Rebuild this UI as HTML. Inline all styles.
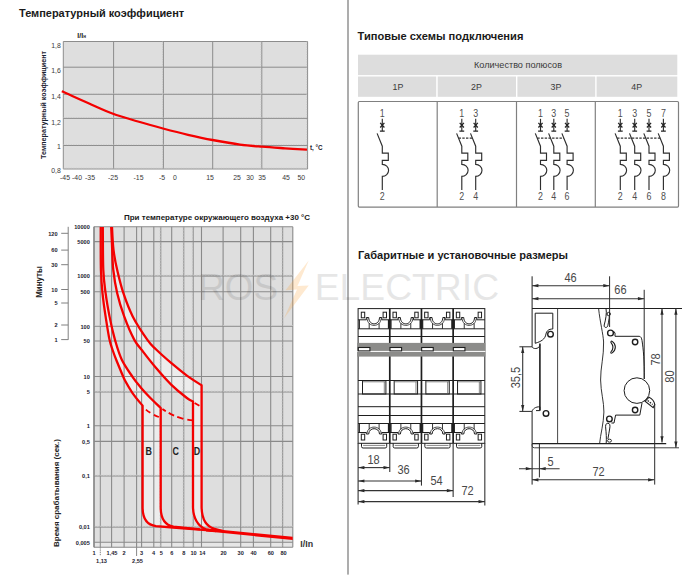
<!DOCTYPE html>
<html><head><meta charset="utf-8"><title>page</title>
<style>
html,body{margin:0;padding:0;background:#fff;}
body{width:698px;height:582px;overflow:hidden;}
svg{display:block;}
text{font-family:"Liberation Sans",sans-serif;}
</style></head><body>
<svg width="698" height="582" viewBox="0 0 698 582">
<rect x="0" y="0" width="698" height="582" fill="#fff"/>
<rect x="347" y="0" width="2" height="574.6" fill="#adadad"/>
<text x="19" y="16.8" font-size="11.2" text-anchor="start" font-weight="bold" fill="#1a1a1a" textLength="165.2" lengthAdjust="spacingAndGlyphs">Температурный коэффициент</text>
<text x="357.6" y="39.8" font-size="11.2" text-anchor="start" font-weight="bold" fill="#1a1a1a" textLength="165.8" lengthAdjust="spacingAndGlyphs">Типовые схемы подключения</text>
<text x="358" y="259" font-size="11.2" text-anchor="start" font-weight="bold" fill="#1a1a1a" textLength="210" lengthAdjust="spacingAndGlyphs">Габаритные и установочные размеры</text>
<g id="chart1">
<rect x="63.3" y="41.5" width="244.3" height="127.5" fill="#dedede"/>
<line x1="63.3" y1="41.5" x2="63.3" y2="169.0" stroke="#8c8c8c" stroke-width="1.0" />
<line x1="113.6" y1="41.5" x2="113.6" y2="169.0" stroke="#8c8c8c" stroke-width="1.0" />
<line x1="163.4" y1="41.5" x2="163.4" y2="169.0" stroke="#8c8c8c" stroke-width="1.0" />
<line x1="212.7" y1="41.5" x2="212.7" y2="169.0" stroke="#8c8c8c" stroke-width="1.0" />
<line x1="261.8" y1="41.5" x2="261.8" y2="169.0" stroke="#8c8c8c" stroke-width="1.0" />
<line x1="307.6" y1="41.5" x2="307.6" y2="169.0" stroke="#8c8c8c" stroke-width="1.0" />
<line x1="63.3" y1="41.5" x2="307.6" y2="41.5" stroke="#8c8c8c" stroke-width="1.0" />
<line x1="63.3" y1="67.2" x2="307.6" y2="67.2" stroke="#8c8c8c" stroke-width="1.0" />
<line x1="63.3" y1="94.3" x2="307.6" y2="94.3" stroke="#8c8c8c" stroke-width="1.0" />
<line x1="63.3" y1="118.4" x2="307.6" y2="118.4" stroke="#8c8c8c" stroke-width="1.0" />
<line x1="63.3" y1="145.5" x2="307.6" y2="145.5" stroke="#8c8c8c" stroke-width="1.0" />
<line x1="63.3" y1="169.0" x2="307.6" y2="169.0" stroke="#8c8c8c" stroke-width="1.0" />
<line x1="162.5" y1="41.5" x2="162.5" y2="169.0" stroke="#c4c4c4" stroke-width="0.7" stroke-dasharray="1 1.5"/>
<line x1="260.90000000000003" y1="41.5" x2="260.90000000000003" y2="169.0" stroke="#c4c4c4" stroke-width="0.7" stroke-dasharray="1 1.5"/>
<line x1="306.70000000000005" y1="41.5" x2="306.70000000000005" y2="169.0" stroke="#c4c4c4" stroke-width="0.7" stroke-dasharray="1 1.5"/>
<line x1="63.3" y1="93.5" x2="307.6" y2="93.5" stroke="#c4c4c4" stroke-width="0.7" stroke-dasharray="1 1.5"/>
<line x1="63.3" y1="117.60000000000001" x2="307.6" y2="117.60000000000001" stroke="#c4c4c4" stroke-width="0.7" stroke-dasharray="1 1.5"/>
<line x1="63.3" y1="144.7" x2="307.6" y2="144.7" stroke="#c4c4c4" stroke-width="0.7" stroke-dasharray="1 1.5"/>
<line x1="63.3" y1="168.2" x2="307.6" y2="168.2" stroke="#c4c4c4" stroke-width="0.7" stroke-dasharray="1 1.5"/>
<path d="M61.8,91.3 C66.2,93.2 79.5,99.3 88,103 C96.5,106.7 104.7,110.7 113,113.75 C121.3,116.8 129.7,119.0 138,121.5 C146.3,124.0 154.7,126.3 163,128.5 C171.3,130.7 179.8,132.9 188,134.8 C196.2,136.7 203.8,138.4 212.5,140 C221.2,141.6 231.8,143.5 240,144.6 C248.2,145.7 254.5,146.1 262,146.7 C269.5,147.3 277.5,147.8 285,148.3 C292.5,148.8 303.3,149.4 307,149.6" fill="none" stroke="#f40000" stroke-width="2.3"/>
<text x="60.8" y="48.0" font-size="6.9" text-anchor="end" font-weight="normal" fill="#3a3a3a" >1,8</text>
<text x="60.8" y="73.25" font-size="6.9" text-anchor="end" font-weight="normal" fill="#3a3a3a" >1,6</text>
<text x="60.8" y="98.75" font-size="6.9" text-anchor="end" font-weight="normal" fill="#3a3a3a" >1,4</text>
<text x="60.8" y="124.5" font-size="6.9" text-anchor="end" font-weight="normal" fill="#3a3a3a" >1,2</text>
<text x="60.8" y="149.0" font-size="6.9" text-anchor="end" font-weight="normal" fill="#3a3a3a" >1</text>
<text x="60.8" y="172.5" font-size="6.9" text-anchor="end" font-weight="normal" fill="#3a3a3a" >0,8</text>
<text x="65" y="179.6" font-size="6.9" text-anchor="middle" font-weight="normal" fill="#3a3a3a" >-45</text>
<text x="77" y="179.6" font-size="6.9" text-anchor="middle" font-weight="normal" fill="#3a3a3a" >-40</text>
<text x="90" y="179.6" font-size="6.9" text-anchor="middle" font-weight="normal" fill="#3a3a3a" >-35</text>
<text x="113" y="179.6" font-size="6.9" text-anchor="middle" font-weight="normal" fill="#3a3a3a" >-25</text>
<text x="138.5" y="179.6" font-size="6.9" text-anchor="middle" font-weight="normal" fill="#3a3a3a" >-15</text>
<text x="162" y="179.6" font-size="6.9" text-anchor="middle" font-weight="normal" fill="#3a3a3a" >-5</text>
<text x="175" y="179.6" font-size="6.9" text-anchor="middle" font-weight="normal" fill="#3a3a3a" >0</text>
<text x="210" y="179.6" font-size="6.9" text-anchor="middle" font-weight="normal" fill="#3a3a3a" >15</text>
<text x="237" y="179.6" font-size="6.9" text-anchor="middle" font-weight="normal" fill="#3a3a3a" >25</text>
<text x="250" y="179.6" font-size="6.9" text-anchor="middle" font-weight="normal" fill="#3a3a3a" >30</text>
<text x="262" y="179.6" font-size="6.9" text-anchor="middle" font-weight="normal" fill="#3a3a3a" >35</text>
<text x="286" y="179.6" font-size="6.9" text-anchor="middle" font-weight="normal" fill="#3a3a3a" >45</text>
<text x="301.3" y="179.6" font-size="6.9" text-anchor="middle" font-weight="normal" fill="#3a3a3a" >50</text>
<text x="77.3" y="38" font-size="7" font-weight="bold" fill="#222">I/I<tspan font-size="4.6" dy="-0.2">н</tspan></text>
<text x="310" y="150" font-size="6.3" text-anchor="start" font-weight="bold" fill="#1b2230" >t, °C</text>
<text transform="translate(45.5,105) rotate(-90)" font-size="6.8" font-weight="bold" text-anchor="middle" fill="#1b2230" textLength="108" lengthAdjust="spacingAndGlyphs">Температурный коэффициент</text>
</g>
<g id="chart2">
<rect x="94" y="226.8" width="198.8" height="320.40000000000003" fill="#dedede"/>
<path d="M100.8,227 L101,270 L102.5,293.2 L105.6,316.4 L109.5,339.6 L112.6,350 L116.5,360.5 L122.5,375 L125,380.5 L132.7,393.3 L142.6,405.7 L142.6,405.7 L142.6,509 L144.6,519.2 L148.9,523.5 L155.8,526.1 L173,526.6 L166.1,523.5 L162.7,519.2 L160.7,509 L160.7,408 L160.7,408 L155.9,403.4 L148.2,395.7 L140.5,387.2 L132.7,377.1 L121.8,359.7 L114.9,339.6 L109.5,316.4 L105.6,293.2 L103.3,270 L102.8,227 Z" fill="#ececec"/>
<path d="M111.2,227 L112.2,250 L113.3,270 L117.2,293.2 L124.2,316.4 L134.2,339.6 L143.6,352.4 L155.9,367.8 L171.4,384.8 L186.9,398 L193,401.4 L193,401.4 L193,508 L195.3,519.2 L198.8,524.4 L205.6,529.2 L221,530.9 L214.2,528.7 L207.4,524.4 L203.9,519.2 L201.6,508 L201.6,385.3 L201.6,385.3 L186.9,375.6 L171.4,363.2 L155.9,349.3 L147.4,339.8 L132.7,316.4 L123.4,293.2 L117.2,270 L113.5,250 L112,227 Z" fill="#ececec"/>
<rect x="94" y="542.9" width="198.8" height="3.6" fill="#e6e6e6"/>
<line x1="94" y1="226.8" x2="94" y2="547.2" stroke="#8a8a8a" stroke-width="1.1" />
<line x1="100.3" y1="226.8" x2="100.3" y2="547.2" stroke="#8a8a8a" stroke-width="1.0" />
<line x1="99.5" y1="226.8" x2="99.5" y2="547.2" stroke="#cdcdcd" stroke-width="0.8" stroke-dasharray="1.4 1.6"/>
<line x1="111.6" y1="226.8" x2="111.6" y2="547.2" stroke="#8a8a8a" stroke-width="1.1" />
<line x1="124.1" y1="226.8" x2="124.1" y2="547.2" stroke="#8a8a8a" stroke-width="1.1" />
<line x1="136.6" y1="226.8" x2="136.6" y2="547.2" stroke="#8a8a8a" stroke-width="1.1" />
<line x1="141.6" y1="226.8" x2="141.6" y2="547.2" stroke="#8a8a8a" stroke-width="1.1" />
<line x1="153.8" y1="226.8" x2="153.8" y2="547.2" stroke="#8a8a8a" stroke-width="1.1" />
<line x1="160.8" y1="226.8" x2="160.8" y2="547.2" stroke="#8a8a8a" stroke-width="1.0" />
<line x1="160.0" y1="226.8" x2="160.0" y2="547.2" stroke="#cdcdcd" stroke-width="0.8" stroke-dasharray="1.4 1.6"/>
<line x1="171.7" y1="226.8" x2="171.7" y2="547.2" stroke="#8a8a8a" stroke-width="1.1" />
<line x1="183.8" y1="226.8" x2="183.8" y2="547.2" stroke="#8a8a8a" stroke-width="1.0" />
<line x1="183.0" y1="226.8" x2="183.0" y2="547.2" stroke="#cdcdcd" stroke-width="0.8" stroke-dasharray="1.4 1.6"/>
<line x1="193.2" y1="226.8" x2="193.2" y2="547.2" stroke="#8a8a8a" stroke-width="1.0" />
<line x1="192.39999999999998" y1="226.8" x2="192.39999999999998" y2="547.2" stroke="#cdcdcd" stroke-width="0.8" stroke-dasharray="1.4 1.6"/>
<line x1="201.5" y1="226.8" x2="201.5" y2="547.2" stroke="#8a8a8a" stroke-width="1.1" />
<line x1="223.1" y1="226.8" x2="223.1" y2="547.2" stroke="#8a8a8a" stroke-width="1.1" />
<line x1="240.7" y1="226.8" x2="240.7" y2="547.2" stroke="#8a8a8a" stroke-width="1.1" />
<line x1="253.4" y1="226.8" x2="253.4" y2="547.2" stroke="#8a8a8a" stroke-width="1.1" />
<line x1="270.7" y1="226.8" x2="270.7" y2="547.2" stroke="#8a8a8a" stroke-width="1.1" />
<line x1="282.7" y1="226.8" x2="282.7" y2="547.2" stroke="#8a8a8a" stroke-width="1.0" />
<line x1="281.9" y1="226.8" x2="281.9" y2="547.2" stroke="#cdcdcd" stroke-width="0.8" stroke-dasharray="1.4 1.6"/>
<line x1="292.8" y1="226.8" x2="292.8" y2="547.2" stroke="#8a8a8a" stroke-width="1.1" />
<line x1="94" y1="226.8" x2="292.8" y2="226.8" stroke="#8a8a8a" stroke-width="1.1" />
<line x1="94" y1="241.6" x2="292.8" y2="241.6" stroke="#8a8a8a" stroke-width="1.1" />
<line x1="94" y1="276" x2="292.8" y2="276" stroke="#8a8a8a" stroke-width="1.0" />
<line x1="94" y1="275.2" x2="292.8" y2="275.2" stroke="#cdcdcd" stroke-width="0.8" stroke-dasharray="1.4 1.6"/>
<line x1="94" y1="291.8" x2="292.8" y2="291.8" stroke="#8a8a8a" stroke-width="1.1" />
<line x1="94" y1="326.3" x2="292.8" y2="326.3" stroke="#8a8a8a" stroke-width="1.0" />
<line x1="94" y1="325.5" x2="292.8" y2="325.5" stroke="#cdcdcd" stroke-width="0.8" stroke-dasharray="1.4 1.6"/>
<line x1="94" y1="341" x2="292.8" y2="341" stroke="#8a8a8a" stroke-width="1.1" />
<line x1="94" y1="376.5" x2="292.8" y2="376.5" stroke="#8a8a8a" stroke-width="1.1" />
<line x1="94" y1="392" x2="292.8" y2="392" stroke="#8a8a8a" stroke-width="1.0" />
<line x1="94" y1="391.2" x2="292.8" y2="391.2" stroke="#cdcdcd" stroke-width="0.8" stroke-dasharray="1.4 1.6"/>
<line x1="94" y1="425.8" x2="292.8" y2="425.8" stroke="#8a8a8a" stroke-width="1.1" />
<line x1="94" y1="441.4" x2="292.8" y2="441.4" stroke="#8a8a8a" stroke-width="1.1" />
<line x1="94" y1="476" x2="292.8" y2="476" stroke="#8a8a8a" stroke-width="1.0" />
<line x1="94" y1="475.2" x2="292.8" y2="475.2" stroke="#cdcdcd" stroke-width="0.8" stroke-dasharray="1.4 1.6"/>
<line x1="94" y1="527.1" x2="292.8" y2="527.1" stroke="#8a8a8a" stroke-width="1.0" />
<line x1="94" y1="526.3000000000001" x2="292.8" y2="526.3000000000001" stroke="#cdcdcd" stroke-width="0.8" stroke-dasharray="1.4 1.6"/>
<line x1="94" y1="542.2" x2="292.8" y2="542.2" stroke="#8a8a8a" stroke-width="1.1" />
<line x1="94" y1="547.2" x2="292.8" y2="547.2" stroke="#8a8a8a" stroke-width="1.1" />
<line x1="94" y1="226.8" x2="94" y2="547.2" stroke="#858585" stroke-width="1.3" />
<path d="M100.8,227 C100.8,234.2 100.7,259.0 101,270 C101.3,281.0 101.7,285.5 102.5,293.2 C103.3,300.9 104.4,308.7 105.6,316.4 C106.8,324.1 108.3,334.0 109.5,339.6 C110.7,345.2 111.4,346.5 112.6,350 C113.8,353.5 114.8,356.3 116.5,360.5 C118.2,364.7 121.1,371.7 122.5,375 C123.9,378.3 123.3,377.4 125,380.5 C126.7,383.6 129.8,389.1 132.7,393.3 C135.6,397.5 140.9,403.6 142.6,405.7 L142.6,508 C142.8,518 147,525 156,526.1 L173,527.5 L216,530.9" fill="none" stroke="#f40000" stroke-width="2.3" stroke-linejoin="round"/>
<path d="M102.8,227 C102.9,234.2 102.8,259.0 103.3,270 C103.8,281.0 104.6,285.5 105.6,293.2 C106.6,300.9 108.0,308.7 109.5,316.4 C111.0,324.1 112.9,332.4 114.9,339.6 C117.0,346.8 118.8,353.4 121.8,359.7 C124.8,365.9 129.6,372.5 132.7,377.1 C135.8,381.7 137.9,384.1 140.5,387.2 C143.1,390.3 145.6,393.0 148.2,395.7 C150.8,398.4 153.8,401.3 155.9,403.4 C158.0,405.4 159.9,407.2 160.7,408 L160.7,508 C160.9,518 165,525.2 173.5,526.6 L200,529.4" fill="none" stroke="#f40000" stroke-width="2.3" stroke-linejoin="round"/>
<path d="M111.2,227 C111.4,230.8 111.9,242.8 112.2,250 C112.5,257.2 112.5,262.8 113.3,270 C114.1,277.2 115.4,285.5 117.2,293.2 C119.0,300.9 121.4,308.7 124.2,316.4 C127.0,324.1 131.0,333.6 134.2,339.6 C137.4,345.6 140.0,347.7 143.6,352.4 C147.2,357.1 151.3,362.4 155.9,367.8 C160.5,373.2 166.2,379.8 171.4,384.8 C176.6,389.8 183.3,395.2 186.9,398 C190.5,400.8 192.0,400.8 193,401.4 L193,507 C193.2,518 198,526.5 206,529.3 L216,531" fill="none" stroke="#f40000" stroke-width="2.3" stroke-linejoin="round"/>
<path d="M112,227 C112.2,230.8 112.6,242.8 113.5,250 C114.4,257.2 115.5,262.8 117.2,270 C118.9,277.2 120.8,285.5 123.4,293.2 C126.0,300.9 128.7,308.6 132.7,316.4 C136.7,324.2 143.5,334.3 147.4,339.8 C151.3,345.3 151.9,345.4 155.9,349.3 C159.9,353.2 166.2,358.8 171.4,363.2 C176.6,367.6 181.9,371.9 186.9,375.6 C191.9,379.3 199.2,383.7 201.6,385.3 L201.6,507 C201.8,518 206,526.5 214.5,528.9 L224,531.4" fill="none" stroke="#f40000" stroke-width="2.3" stroke-linejoin="round"/>
<path d="M206,528.6 L218,529.4 L292.7,536.8 V540 L218,532.6 L206,531.4 Z" fill="#f40000"/>
<path d="M145.9,409.6 C150,413 155,415.8 159.8,417.3" fill="none" stroke="#f40000" stroke-width="1.8" stroke-dasharray="5.5 4"/>
<path d="M162.4,409 C172,415.5 182,419.6 193,420.4" fill="none" stroke="#f40000" stroke-width="1.8" stroke-dasharray="4 3.4 6 3.4 6.5 4 6 4"/>
<path d="M194.6,403 L199.4,405.8" fill="none" stroke="#f40000" stroke-width="1.8"/>
<text transform="translate(148.8,454.6) scale(0.84,1)" font-size="10.6" font-weight="bold" text-anchor="middle" fill="#222">B</text>
<text transform="translate(175.6,454.6) scale(0.84,1)" font-size="10.6" font-weight="bold" text-anchor="middle" fill="#222">C</text>
<text transform="translate(197,454.6) scale(0.84,1)" font-size="10.6" font-weight="bold" text-anchor="middle" fill="#222">D</text>
<text x="89.8" y="229.10000000000002" font-size="5.6" text-anchor="end" font-weight="bold" fill="#1b2230" >10000</text>
<text x="89.8" y="243.9" font-size="5.6" text-anchor="end" font-weight="bold" fill="#1b2230" >5000</text>
<text x="89.8" y="278.3" font-size="5.6" text-anchor="end" font-weight="bold" fill="#1b2230" >1000</text>
<text x="89.8" y="294.1" font-size="5.6" text-anchor="end" font-weight="bold" fill="#1b2230" >500</text>
<text x="89.8" y="328.6" font-size="5.6" text-anchor="end" font-weight="bold" fill="#1b2230" >100</text>
<text x="89.8" y="343.3" font-size="5.6" text-anchor="end" font-weight="bold" fill="#1b2230" >50</text>
<text x="89.8" y="378.8" font-size="5.6" text-anchor="end" font-weight="bold" fill="#1b2230" >10</text>
<text x="89.8" y="394.3" font-size="5.6" text-anchor="end" font-weight="bold" fill="#1b2230" >5</text>
<text x="89.8" y="428.1" font-size="5.6" text-anchor="end" font-weight="bold" fill="#1b2230" >1</text>
<text x="89.8" y="443.7" font-size="5.6" text-anchor="end" font-weight="bold" fill="#1b2230" >0,5</text>
<text x="89.8" y="478.3" font-size="5.6" text-anchor="end" font-weight="bold" fill="#1b2230" >0,1</text>
<text x="89.8" y="529.4" font-size="5.6" text-anchor="end" font-weight="bold" fill="#1b2230" >0,01</text>
<text x="89.8" y="544.5" font-size="5.6" text-anchor="end" font-weight="bold" fill="#1b2230" >0,005</text>
<line x1="68.2" y1="226.8" x2="68.2" y2="339.8" stroke="#808080" stroke-width="1.0" />
<line x1="61.2" y1="233.3" x2="68.2" y2="233.3" stroke="#808080" stroke-width="1.0" />
<text x="57.6" y="235.60000000000002" font-size="5.6" text-anchor="end" font-weight="bold" fill="#1b2230" >120</text>
<line x1="61.2" y1="250.1" x2="68.2" y2="250.1" stroke="#808080" stroke-width="1.0" />
<text x="57.6" y="252.4" font-size="5.6" text-anchor="end" font-weight="bold" fill="#1b2230" >60</text>
<line x1="61.2" y1="264.7" x2="68.2" y2="264.7" stroke="#808080" stroke-width="1.0" />
<text x="57.6" y="267.0" font-size="5.6" text-anchor="end" font-weight="bold" fill="#1b2230" >30</text>
<line x1="61.2" y1="289.5" x2="68.2" y2="289.5" stroke="#808080" stroke-width="1.0" />
<text x="57.6" y="291.8" font-size="5.6" text-anchor="end" font-weight="bold" fill="#1b2230" >10</text>
<line x1="61.2" y1="303" x2="68.2" y2="303" stroke="#808080" stroke-width="1.0" />
<text x="57.6" y="305.3" font-size="5.6" text-anchor="end" font-weight="bold" fill="#1b2230" >5</text>
<line x1="61.2" y1="325" x2="68.2" y2="325" stroke="#808080" stroke-width="1.0" />
<text x="57.6" y="327.3" font-size="5.6" text-anchor="end" font-weight="bold" fill="#1b2230" >2</text>
<line x1="61.2" y1="339.6" x2="68.2" y2="339.6" stroke="#808080" stroke-width="1.0" />
<text x="57.6" y="341.90000000000003" font-size="5.6" text-anchor="end" font-weight="bold" fill="#1b2230" >1</text>
<text transform="translate(41.6,282) rotate(-90)" font-size="9" font-weight="bold" text-anchor="middle" fill="#222" textLength="31.5" lengthAdjust="spacingAndGlyphs">Минуты</text>
<text transform="translate(59.4,493) rotate(-90)" font-size="7.8" font-weight="bold" text-anchor="middle" fill="#222" textLength="108" lengthAdjust="spacingAndGlyphs">Время срабатывания (сек.)</text>
<text x="124" y="220.3" font-size="7.6" text-anchor="start" font-weight="bold" fill="#1a1a1a" textLength="186" lengthAdjust="spacingAndGlyphs">При температуре окружающего воздуха +30 °C</text>
<text x="300.3" y="547.2" font-size="9" text-anchor="start" font-weight="bold" fill="#333" textLength="12.8" lengthAdjust="spacingAndGlyphs">I/In</text>
<text x="94" y="555.3" font-size="5.6" text-anchor="middle" font-weight="bold" fill="#1b2230" >1</text>
<text x="112" y="555.3" font-size="5.6" text-anchor="middle" font-weight="bold" fill="#1b2230" >1,45</text>
<text x="124" y="555.3" font-size="5.6" text-anchor="middle" font-weight="bold" fill="#1b2230" >2</text>
<text x="141.6" y="555.3" font-size="5.6" text-anchor="middle" font-weight="bold" fill="#1b2230" >3</text>
<text x="153.5" y="555.3" font-size="5.6" text-anchor="middle" font-weight="bold" fill="#1b2230" >4</text>
<text x="161.2" y="555.3" font-size="5.6" text-anchor="middle" font-weight="bold" fill="#1b2230" >5</text>
<text x="171.7" y="555.3" font-size="5.6" text-anchor="middle" font-weight="bold" fill="#1b2230" >6</text>
<text x="183.8" y="555.3" font-size="5.6" text-anchor="middle" font-weight="bold" fill="#1b2230" >8</text>
<text x="193.5" y="555.3" font-size="5.6" text-anchor="middle" font-weight="bold" fill="#1b2230" >10</text>
<text x="202.3" y="555.3" font-size="5.6" text-anchor="middle" font-weight="bold" fill="#1b2230" >14</text>
<text x="223.6" y="555.3" font-size="5.6" text-anchor="middle" font-weight="bold" fill="#1b2230" >20</text>
<text x="240.7" y="555.3" font-size="5.6" text-anchor="middle" font-weight="bold" fill="#1b2230" >30</text>
<text x="253.5" y="555.3" font-size="5.6" text-anchor="middle" font-weight="bold" fill="#1b2230" >40</text>
<text x="270.8" y="555.3" font-size="5.6" text-anchor="middle" font-weight="bold" fill="#1b2230" >60</text>
<text x="283.6" y="555.3" font-size="5.6" text-anchor="middle" font-weight="bold" fill="#1b2230" >80</text>
<text x="101.5" y="563.3" font-size="5.6" text-anchor="middle" font-weight="bold" fill="#1b2230" >1,13</text>
<text x="137.5" y="563.3" font-size="5.6" text-anchor="middle" font-weight="bold" fill="#1b2230" >2,55</text>
<line x1="100.3" y1="547.2" x2="100.3" y2="556" stroke="#888" stroke-width="1" stroke-dasharray="1.4 0.8"/>
<line x1="136.6" y1="547.2" x2="136.6" y2="556" stroke="#888" stroke-width="1" />
</g>
<g id="table">
<rect x="358" y="54.7" width="319.3" height="20.4" fill="#dddddd"/>
<rect x="358" y="76.5" width="78.19999999999999" height="20.3" fill="#dddddd"/>
<rect x="437.7" y="76.5" width="78.30000000000001" height="20.3" fill="#dddddd"/>
<rect x="517.4" y="76.5" width="77.80000000000007" height="20.3" fill="#dddddd"/>
<rect x="596.6" y="76.5" width="80.69999999999993" height="20.3" fill="#dddddd"/>
<text x="518" y="68.1" font-size="8.6" text-anchor="middle" font-weight="normal" fill="#3a3a3a" textLength="88" lengthAdjust="spacingAndGlyphs">Количество полюсов</text>
<text transform="translate(397.9,90.3) scale(0.9,1)" font-size="9.8" text-anchor="middle" fill="#3a3a3a">1P</text>
<text transform="translate(476.4,90.3) scale(0.9,1)" font-size="9.8" text-anchor="middle" fill="#3a3a3a">2P</text>
<text transform="translate(555.9,90.3) scale(0.9,1)" font-size="9.8" text-anchor="middle" fill="#3a3a3a">3P</text>
<text transform="translate(636.7,90.3) scale(0.9,1)" font-size="9.8" text-anchor="middle" fill="#3a3a3a">4P</text>
<rect x="358.3" y="101.5" width="320.2" height="105.6" rx="1" fill="#fff" stroke="#808080" stroke-width="1.2"/>
<line x1="437.2" y1="101.6" x2="437.2" y2="207" stroke="#808080" stroke-width="1.2" />
<line x1="516.5" y1="101.6" x2="516.5" y2="207" stroke="#808080" stroke-width="1.2" />
<line x1="595.3" y1="101.6" x2="595.3" y2="207" stroke="#808080" stroke-width="1.2" />
<path d="M382.3,118.8 V131" fill="none" stroke="#2e2e2e" stroke-width="1.15"/>
<path d="M379.90000000000003,131.2 H384.7 M380.2,122.9 L384.40000000000003,127.5 M384.40000000000003,122.9 L380.2,127.5" fill="none" stroke="#222" stroke-width="1.25"/>
<path d="M377.1,133.4 L382.3,146.2 V153.1 H388.3 V160.3 H382.3 V164.3 A6.3,6 0 0 1 382.3,176.3 V190" fill="none" stroke="#2e2e2e" stroke-width="1.15" stroke-linejoin="miter"/>
<text x="382.3" y="117" font-size="10.6" text-anchor="middle" font-weight="normal" fill="#505050" transform="translate(382.3,0) scale(0.84,1) translate(-382.3,0)">1</text>
<text x="382.3" y="199.8" font-size="10.6" text-anchor="middle" font-weight="normal" fill="#505050" transform="translate(382.3,0) scale(0.84,1) translate(-382.3,0)">2</text>
<path d="M461.8,118.8 V131" fill="none" stroke="#2e2e2e" stroke-width="1.15"/>
<path d="M459.40000000000003,131.2 H464.2 M459.7,122.9 L463.90000000000003,127.5 M463.90000000000003,122.9 L459.7,127.5" fill="none" stroke="#222" stroke-width="1.25"/>
<path d="M456.6,133.4 L461.8,146.2 V153.1 H467.8 V160.3 H461.8 V164.3 A6.3,6 0 0 1 461.8,176.3 V190" fill="none" stroke="#2e2e2e" stroke-width="1.15" stroke-linejoin="miter"/>
<text x="461.8" y="117" font-size="10.6" text-anchor="middle" font-weight="normal" fill="#505050" transform="translate(461.8,0) scale(0.84,1) translate(-461.8,0)">1</text>
<text x="461.8" y="199.8" font-size="10.6" text-anchor="middle" font-weight="normal" fill="#505050" transform="translate(461.8,0) scale(0.84,1) translate(-461.8,0)">2</text>
<path d="M475.7,118.8 V131" fill="none" stroke="#2e2e2e" stroke-width="1.15"/>
<path d="M473.3,131.2 H478.09999999999997 M473.59999999999997,122.9 L477.8,127.5 M477.8,122.9 L473.59999999999997,127.5" fill="none" stroke="#222" stroke-width="1.25"/>
<path d="M470.5,133.4 L475.7,146.2 V153.1 H481.7 V160.3 H475.7 V164.3 A6.3,6 0 0 1 475.7,176.3 V190" fill="none" stroke="#2e2e2e" stroke-width="1.15" stroke-linejoin="miter"/>
<text x="475.7" y="117" font-size="10.6" text-anchor="middle" font-weight="normal" fill="#505050" transform="translate(475.7,0) scale(0.84,1) translate(-475.7,0)">3</text>
<text x="475.7" y="199.8" font-size="10.6" text-anchor="middle" font-weight="normal" fill="#505050" transform="translate(475.7,0) scale(0.84,1) translate(-475.7,0)">4</text>
<line x1="458.6" y1="138.1" x2="472.5" y2="138.1" stroke="#333" stroke-width="1.1" stroke-dasharray="2.4 1.3"/>
<path d="M540.5,118.8 V131" fill="none" stroke="#2e2e2e" stroke-width="1.15"/>
<path d="M538.1,131.2 H542.9 M538.4,122.9 L542.6,127.5 M542.6,122.9 L538.4,127.5" fill="none" stroke="#222" stroke-width="1.25"/>
<path d="M535.3,133.4 L540.5,146.2 V153.1 H546.5 V160.3 H540.5 V164.3 A6.3,6 0 0 1 540.5,176.3 V190" fill="none" stroke="#2e2e2e" stroke-width="1.15" stroke-linejoin="miter"/>
<text x="540.5" y="117" font-size="10.6" text-anchor="middle" font-weight="normal" fill="#505050" transform="translate(540.5,0) scale(0.84,1) translate(-540.5,0)">1</text>
<text x="540.5" y="199.8" font-size="10.6" text-anchor="middle" font-weight="normal" fill="#505050" transform="translate(540.5,0) scale(0.84,1) translate(-540.5,0)">2</text>
<path d="M553.8,118.8 V131" fill="none" stroke="#2e2e2e" stroke-width="1.15"/>
<path d="M551.4,131.2 H556.1999999999999 M551.6999999999999,122.9 L555.9,127.5 M555.9,122.9 L551.6999999999999,127.5" fill="none" stroke="#222" stroke-width="1.25"/>
<path d="M548.5999999999999,133.4 L553.8,146.2 V153.1 H559.8 V160.3 H553.8 V164.3 A6.3,6 0 0 1 553.8,176.3 V190" fill="none" stroke="#2e2e2e" stroke-width="1.15" stroke-linejoin="miter"/>
<text x="553.8" y="117" font-size="10.6" text-anchor="middle" font-weight="normal" fill="#505050" transform="translate(553.8,0) scale(0.84,1) translate(-553.8,0)">3</text>
<text x="553.8" y="199.8" font-size="10.6" text-anchor="middle" font-weight="normal" fill="#505050" transform="translate(553.8,0) scale(0.84,1) translate(-553.8,0)">4</text>
<path d="M567.1,118.8 V131" fill="none" stroke="#2e2e2e" stroke-width="1.15"/>
<path d="M564.7,131.2 H569.5 M565.0,122.9 L569.2,127.5 M569.2,122.9 L565.0,127.5" fill="none" stroke="#222" stroke-width="1.25"/>
<path d="M561.9,133.4 L567.1,146.2 V153.1 H573.1 V160.3 H567.1 V164.3 A6.3,6 0 0 1 567.1,176.3 V190" fill="none" stroke="#2e2e2e" stroke-width="1.15" stroke-linejoin="miter"/>
<text x="567.1" y="117" font-size="10.6" text-anchor="middle" font-weight="normal" fill="#505050" transform="translate(567.1,0) scale(0.84,1) translate(-567.1,0)">5</text>
<text x="567.1" y="199.8" font-size="10.6" text-anchor="middle" font-weight="normal" fill="#505050" transform="translate(567.1,0) scale(0.84,1) translate(-567.1,0)">6</text>
<line x1="537.3" y1="138.1" x2="563.9" y2="138.1" stroke="#333" stroke-width="1.1" stroke-dasharray="2.4 1.3"/>
<path d="M620.3,118.8 V131" fill="none" stroke="#2e2e2e" stroke-width="1.15"/>
<path d="M617.9,131.2 H622.6999999999999 M618.1999999999999,122.9 L622.4,127.5 M622.4,122.9 L618.1999999999999,127.5" fill="none" stroke="#222" stroke-width="1.25"/>
<path d="M615.0999999999999,133.4 L620.3,146.2 V153.1 H626.3 V160.3 H620.3 V164.3 A6.3,6 0 0 1 620.3,176.3 V190" fill="none" stroke="#2e2e2e" stroke-width="1.15" stroke-linejoin="miter"/>
<text x="620.3" y="117" font-size="10.6" text-anchor="middle" font-weight="normal" fill="#505050" transform="translate(620.3,0) scale(0.84,1) translate(-620.3,0)">1</text>
<text x="620.3" y="199.8" font-size="10.6" text-anchor="middle" font-weight="normal" fill="#505050" transform="translate(620.3,0) scale(0.84,1) translate(-620.3,0)">2</text>
<path d="M634.7,118.8 V131" fill="none" stroke="#2e2e2e" stroke-width="1.15"/>
<path d="M632.3000000000001,131.2 H637.1 M632.6,122.9 L636.8000000000001,127.5 M636.8000000000001,122.9 L632.6,127.5" fill="none" stroke="#222" stroke-width="1.25"/>
<path d="M629.5,133.4 L634.7,146.2 V153.1 H640.7 V160.3 H634.7 V164.3 A6.3,6 0 0 1 634.7,176.3 V190" fill="none" stroke="#2e2e2e" stroke-width="1.15" stroke-linejoin="miter"/>
<text x="634.7" y="117" font-size="10.6" text-anchor="middle" font-weight="normal" fill="#505050" transform="translate(634.7,0) scale(0.84,1) translate(-634.7,0)">3</text>
<text x="634.7" y="199.8" font-size="10.6" text-anchor="middle" font-weight="normal" fill="#505050" transform="translate(634.7,0) scale(0.84,1) translate(-634.7,0)">4</text>
<path d="M649.0,118.8 V131" fill="none" stroke="#2e2e2e" stroke-width="1.15"/>
<path d="M646.6,131.2 H651.4 M646.9,122.9 L651.1,127.5 M651.1,122.9 L646.9,127.5" fill="none" stroke="#222" stroke-width="1.25"/>
<path d="M643.8,133.4 L649.0,146.2 V153.1 H655.0 V160.3 H649.0 V164.3 A6.3,6 0 0 1 649.0,176.3 V190" fill="none" stroke="#2e2e2e" stroke-width="1.15" stroke-linejoin="miter"/>
<text x="649.0" y="117" font-size="10.6" text-anchor="middle" font-weight="normal" fill="#505050" transform="translate(649.0,0) scale(0.84,1) translate(-649.0,0)">5</text>
<text x="649.0" y="199.8" font-size="10.6" text-anchor="middle" font-weight="normal" fill="#505050" transform="translate(649.0,0) scale(0.84,1) translate(-649.0,0)">6</text>
<path d="M663.4,118.8 V131" fill="none" stroke="#2e2e2e" stroke-width="1.15"/>
<path d="M661.0,131.2 H665.8 M661.3,122.9 L665.5,127.5 M665.5,122.9 L661.3,127.5" fill="none" stroke="#222" stroke-width="1.25"/>
<path d="M658.1999999999999,133.4 L663.4,146.2 V153.1 H669.4 V160.3 H663.4 V164.3 A6.3,6 0 0 1 663.4,176.3 V190" fill="none" stroke="#2e2e2e" stroke-width="1.15" stroke-linejoin="miter"/>
<text x="663.4" y="117" font-size="10.6" text-anchor="middle" font-weight="normal" fill="#505050" transform="translate(663.4,0) scale(0.84,1) translate(-663.4,0)">7</text>
<text x="663.4" y="199.8" font-size="10.6" text-anchor="middle" font-weight="normal" fill="#505050" transform="translate(663.4,0) scale(0.84,1) translate(-663.4,0)">8</text>
<line x1="617.0999999999999" y1="138.1" x2="660.1999999999999" y2="138.1" stroke="#333" stroke-width="1.1" stroke-dasharray="2.4 1.3"/>
</g>
<g id="front" fill="none" stroke="#1e1e1e" stroke-width="1">
<rect x="358.1" y="308.6" width="126.72" height="134.7" />
<path d="M358.1,328.8 H484.82000000000005"/>
<path d="M358.1,336.5 H484.82000000000005"/>
<path d="M358.1,380.5 H484.82000000000005"/>
<path d="M358.1,394.0 H484.82000000000005"/>
<path d="M358.1,406.7 H484.82000000000005"/>
<path d="M358.1,415.5 H484.82000000000005"/>
<path d="M358.1,423.5 H484.82000000000005"/>
<rect x="361.3" y="312.2" width="3.4" height="5.6"/>
<rect x="383.1" y="312.2" width="3.4" height="5.6"/>
<path d="M358.1,319.8 H366.3 V317.5 H368.70000000000005 C368.90000000000003,326 379.3,326 379.5,317.5 H381.8 V319.8 H389.78000000000003"/>
<path d="M367.0,318.2 C367.5,327.8 380.70000000000005,327.8 381.20000000000005,318.2" stroke-width="0.8"/>
<path d="M369.20000000000005,323.2 V328.8 M379.1,323.2 V328.8" stroke-width="0.9"/>
<path d="M359.3,319.8 V328.8" stroke-width="1.2"/>
<rect x="362.5" y="380.6" width="23.4" height="13.4"/>
<path d="M362.5,381.8 H385.70000000000005 M384.3,381.8 V394" stroke-width="0.7" stroke="#555"/>
<path d="M358.1,432.5 H366.3 V434 H368.70000000000005 C368.90000000000003,426.9 379.3,426.9 379.5,434 H381.8 V432.5 H389.78000000000003"/>
<path d="M367.0,433.4 C367.5,425 380.70000000000005,425 381.20000000000005,433.4" stroke-width="0.8"/>
<path d="M369.20000000000005,423.5 V429.5 M379.1,423.5 V429.5" stroke-width="0.9"/>
<path d="M359.3,423.5 V432.5" stroke-width="1.2"/>
<rect x="361.3" y="434.2" width="3.4" height="5.8"/>
<rect x="383.1" y="434.2" width="3.4" height="5.8"/>
<path d="M361.5,443.3 V446.6 Q361.5,448 363.1,448 H385.1 Q386.70000000000005,448 386.70000000000005,446.6 V443.3"/>
<path d="M363.1,445.4 H385.1" stroke-width="0.7" stroke="#555"/>
<path d="M389.78000000000003,308.6 V443.3" stroke-width="1.7"/>
<path d="M389.18,319.8 V328.8 M389.18,423.5 V432.6" stroke-width="2.6"/>
<rect x="392.98" y="312.2" width="3.4" height="5.6"/>
<rect x="414.78000000000003" y="312.2" width="3.4" height="5.6"/>
<path d="M389.78000000000003,319.8 H397.98 V317.5 H400.38000000000005 C400.58000000000004,326 410.98,326 411.18,317.5 H413.48 V319.8 H421.46000000000004"/>
<path d="M398.68,318.2 C399.18,327.8 412.38000000000005,327.8 412.88000000000005,318.2" stroke-width="0.8"/>
<path d="M400.88000000000005,323.2 V328.8 M410.78000000000003,323.2 V328.8" stroke-width="0.9"/>
<path d="M390.98,319.8 V328.8" stroke-width="1.2"/>
<rect x="394.18" y="380.6" width="23.4" height="13.4"/>
<path d="M394.18,381.8 H417.38000000000005 M415.98,381.8 V394" stroke-width="0.7" stroke="#555"/>
<path d="M389.78000000000003,432.5 H397.98 V434 H400.38000000000005 C400.58000000000004,426.9 410.98,426.9 411.18,434 H413.48 V432.5 H421.46000000000004"/>
<path d="M398.68,433.4 C399.18,425 412.38000000000005,425 412.88000000000005,433.4" stroke-width="0.8"/>
<path d="M400.88000000000005,423.5 V429.5 M410.78000000000003,423.5 V429.5" stroke-width="0.9"/>
<path d="M390.98,423.5 V432.5" stroke-width="1.2"/>
<rect x="392.98" y="434.2" width="3.4" height="5.8"/>
<rect x="414.78000000000003" y="434.2" width="3.4" height="5.8"/>
<path d="M393.18,443.3 V446.6 Q393.18,448 394.78000000000003,448 H416.78000000000003 Q418.38000000000005,448 418.38000000000005,446.6 V443.3"/>
<path d="M394.78000000000003,445.4 H416.78000000000003" stroke-width="0.7" stroke="#555"/>
<path d="M421.46000000000004,308.6 V443.3" stroke-width="1.7"/>
<path d="M420.86,319.8 V328.8 M420.86,423.5 V432.6" stroke-width="2.6"/>
<rect x="424.66" y="312.2" width="3.4" height="5.6"/>
<rect x="446.46000000000004" y="312.2" width="3.4" height="5.6"/>
<path d="M421.46000000000004,319.8 H429.66 V317.5 H432.06000000000006 C432.26000000000005,326 442.66,326 442.86,317.5 H445.16 V319.8 H453.14000000000004"/>
<path d="M430.36,318.2 C430.86,327.8 444.06000000000006,327.8 444.56000000000006,318.2" stroke-width="0.8"/>
<path d="M432.56000000000006,323.2 V328.8 M442.46000000000004,323.2 V328.8" stroke-width="0.9"/>
<path d="M422.66,319.8 V328.8" stroke-width="1.2"/>
<rect x="425.86" y="380.6" width="23.4" height="13.4"/>
<path d="M425.86,381.8 H449.06000000000006 M447.66,381.8 V394" stroke-width="0.7" stroke="#555"/>
<path d="M421.46000000000004,432.5 H429.66 V434 H432.06000000000006 C432.26000000000005,426.9 442.66,426.9 442.86,434 H445.16 V432.5 H453.14000000000004"/>
<path d="M430.36,433.4 C430.86,425 444.06000000000006,425 444.56000000000006,433.4" stroke-width="0.8"/>
<path d="M432.56000000000006,423.5 V429.5 M442.46000000000004,423.5 V429.5" stroke-width="0.9"/>
<path d="M422.66,423.5 V432.5" stroke-width="1.2"/>
<rect x="424.66" y="434.2" width="3.4" height="5.8"/>
<rect x="446.46000000000004" y="434.2" width="3.4" height="5.8"/>
<path d="M424.86,443.3 V446.6 Q424.86,448 426.46000000000004,448 H448.46000000000004 Q450.06000000000006,448 450.06000000000006,446.6 V443.3"/>
<path d="M426.46000000000004,445.4 H448.46000000000004" stroke-width="0.7" stroke="#555"/>
<path d="M453.14,308.6 V443.3" stroke-width="1.7"/>
<path d="M452.53999999999996,319.8 V328.8 M452.53999999999996,423.5 V432.6" stroke-width="2.6"/>
<rect x="456.34" y="312.2" width="3.4" height="5.6"/>
<rect x="478.14" y="312.2" width="3.4" height="5.6"/>
<path d="M453.14,319.8 H461.34 V317.5 H463.74 C463.94,326 474.34,326 474.53999999999996,317.5 H476.84 V319.8 H484.82"/>
<path d="M462.03999999999996,318.2 C462.53999999999996,327.8 475.74,327.8 476.24,318.2" stroke-width="0.8"/>
<path d="M464.24,323.2 V328.8 M474.14,323.2 V328.8" stroke-width="0.9"/>
<path d="M454.34,319.8 V328.8" stroke-width="1.2"/>
<rect x="457.53999999999996" y="380.6" width="23.4" height="13.4"/>
<path d="M457.53999999999996,381.8 H480.74 M479.34,381.8 V394" stroke-width="0.7" stroke="#555"/>
<path d="M453.14,432.5 H461.34 V434 H463.74 C463.94,426.9 474.34,426.9 474.53999999999996,434 H476.84 V432.5 H484.82"/>
<path d="M462.03999999999996,433.4 C462.53999999999996,425 475.74,425 476.24,433.4" stroke-width="0.8"/>
<path d="M464.24,423.5 V429.5 M474.14,423.5 V429.5" stroke-width="0.9"/>
<path d="M454.34,423.5 V432.5" stroke-width="1.2"/>
<rect x="456.34" y="434.2" width="3.4" height="5.8"/>
<rect x="478.14" y="434.2" width="3.4" height="5.8"/>
<path d="M456.53999999999996,443.3 V446.6 Q456.53999999999996,448 458.14,448 H480.14 Q481.74,448 481.74,446.6 V443.3"/>
<path d="M458.14,445.4 H480.14" stroke-width="0.7" stroke="#555"/>
<rect x="357.2" y="342.9" width="128.2" height="13.7" fill="#8c8c8a" stroke="none"/>
<rect x="357.2" y="350.9" width="128.2" height="1.1" fill="#f6f6f6" stroke="none"/>
<rect x="358.3" y="347.5" width="11.6" height="3.4" fill="#fff" stroke="#1e1e1e" stroke-width="1.1"/>
<rect x="389.98" y="347.5" width="11.6" height="3.4" fill="#fff" stroke="#1e1e1e" stroke-width="1.1"/>
<rect x="421.66" y="347.5" width="11.6" height="3.4" fill="#fff" stroke="#1e1e1e" stroke-width="1.1"/>
<rect x="453.34" y="347.5" width="11.6" height="3.4" fill="#fff" stroke="#1e1e1e" stroke-width="1.1"/>
</g>
<g id="fdim" fill="none" stroke="#333" stroke-width="1.1">
<path d="M358.1,443.3 V504.5"/>
<path d="M389.78000000000003,443.3 V472"/>
<path d="M421.46000000000004,443.3 V485.6"/>
<path d="M453.14,443.3 V497"/>
<path d="M484.82000000000005,443.3 V505.5"/>
<path d="M358.1,467.6 H389.78000000000003"/>
<path d="M358.1,467.6 l6.3,-1.6 v3.2 z M389.78000000000003,467.6 l-6.3,-1.6 v3.2 z" fill="#2a2a2a" stroke="none"/>
<path d="M358.1,481 H421.46000000000004"/>
<path d="M358.1,481 l6.3,-1.6 v3.2 z M421.46000000000004,481 l-6.3,-1.6 v3.2 z" fill="#2a2a2a" stroke="none"/>
<path d="M358.1,490.6 H453.14"/>
<path d="M358.1,490.6 l6.3,-1.6 v3.2 z M453.14,490.6 l-6.3,-1.6 v3.2 z" fill="#2a2a2a" stroke="none"/>
<path d="M358.1,501.6 H484.82000000000005"/>
<path d="M358.1,501.6 l6.3,-1.6 v3.2 z M484.82000000000005,501.6 l-6.3,-1.6 v3.2 z" fill="#2a2a2a" stroke="none"/>
</g>
<text transform="translate(373.5,464) scale(0.9,1)" font-size="12.2" text-anchor="middle" fill="#484848">18</text>
<text transform="translate(403.6,474.2) scale(0.9,1)" font-size="12.2" text-anchor="middle" fill="#484848">36</text>
<text transform="translate(436.6,485.2) scale(0.9,1)" font-size="12.2" text-anchor="middle" fill="#484848">54</text>
<text transform="translate(467.6,495) scale(0.9,1)" font-size="12.2" text-anchor="middle" fill="#484848">72</text>
<g id="side" fill="none" stroke="#1e1e1e" stroke-width="1">
<path d="M532.1,276.3 V346.8"/>
<path d="M532.1,411.4 V484.6"/>
<path d="M532.1,308.5 H682"/>
<path d="M557.6,308.5 V443.7" stroke-width="0.9" stroke="#333"/>
<path d="M532.1,443.7 H666.2" stroke-width="1.3"/>
<path d="M532.1,444 V445.6 Q532.1,447.8 534.4,447.8 H679" stroke="#444"/>
<path d="M535.2,313.2 H552.8 V329 C548.5,329 546.5,331 546,334 C545,339.5 541,341.5 535.2,343.3 Z"/>
<circle cx="550.5" cy="334.2" r="2.8" stroke-width="1.4"/>
<path d="M532.1,346.8 C533,349.2 538.5,349.4 539.9,345.5"/>
<path d="M539.9,343.6 V410.4" stroke-width="1.6"/>
<path d="M532.1,411.4 C532.6,409 535.5,406.6 539.9,406.8 L539.9,410.6 H536"/>
<circle cx="546" cy="413.4" r="2.8" stroke-width="1.4"/>
<path d="M598.6,308.5 C600,322 603.2,334 603.6,342 C604,356 600.4,368 600.6,380 C600.8,392 604,402 603.9,412 C603.6,424 600.5,434 599.6,443.7" stroke-width="0.9"/>
<path d="M606,308.5 C607,313 605.6,320 604.2,325 C603.6,328 607.2,328.2 607.8,325.8 C608.8,321 609.6,316 609.6,312.6"/>
<circle cx="608.7" cy="314" r="1.7" stroke-width="1"/>
<circle cx="610.5" cy="333" r="2.9" stroke-width="1.4"/>
<path d="M613.4,331 L615,333 V336.3 H639.2 C641,336.6 641.6,338 642,340.5 C643.5,350 644.3,360 644.3,379"/>
<circle cx="635.1" cy="342" r="2.7" stroke-width="1.4"/>
<path d="M612.2,341.4 C616.4,344.5 616.4,349.7 612.2,352.9 C611,353.7 610.3,352.6 611.2,351.5 C613.3,349 613.3,345.4 611.2,342.8 C610.4,341.8 611.2,340.7 612.2,341.4 Z" stroke-width="1.1"/>
<circle cx="636.9" cy="390.6" r="12.8" fill="#fff"/>
<path d="M645,401.3 L649.1,397.2 C652,398.6 654.2,401.2 654.8,404.6 L653.2,407.6 Z" stroke-width="1.1"/>
<path d="M647.6,400.6 L652.6,404.6" stroke-width="1.3" stroke-dasharray="1.6 1.2"/>
<path d="M642,403 L639.8,415.1 H615.6 L614,423 H611.4"/>
<circle cx="635.1" cy="410" r="2.7" stroke-width="1.4"/>
<circle cx="609.4" cy="418.9" r="2.8" stroke-width="1.4"/>
<path d="M607.8,423.2 C605.6,423.4 605.4,425.6 605.7,428 C606.2,433 606.6,438 606.2,443.2 M607.8,423.2 C610,423.4 610.2,425.4 609.8,428 C609.2,432 608.4,435.6 607.9,439"/>
<ellipse cx="609.5" cy="440.7" rx="2" ry="1.5" stroke-width="0.9"/>
<path d="M609.6,276.3 V327" stroke="#2a2a2a"/>
<path d="M644.2,289.8 V379" stroke="#2a2a2a"/>
<path d="M654.7,404.6 V484.6" stroke="#2a2a2a"/>
<path d="M539.4,444 V477.4" stroke="#2a2a2a"/>
<path d="M519.4,346.8 H532.1 M519.4,411.4 H532.1" stroke="#2a2a2a"/>
</g>
<g id="sdim" fill="none" stroke="#333" stroke-width="1.1">
<path d="M532.1,285.7 H609.6"/>
<path d="M532.1,285.7 l6.3,-1.6 v3.2 z M609.6,285.7 l-6.3,-1.6 v3.2 z" fill="#2a2a2a" stroke="none"/>
<path d="M532.1,298.7 H644.2"/>
<path d="M532.1,298.7 l6.3,-1.6 v3.2 z M644.2,298.7 l-6.3,-1.6 v3.2 z" fill="#2a2a2a" stroke="none"/>
<path d="M532.1,479.8 H654.4"/>
<path d="M532.1,479.8 l6.3,-1.6 v3.2 z M654.4,479.8 l-6.3,-1.6 v3.2 z" fill="#2a2a2a" stroke="none"/>
<path d="M662.0,308.5 V442.6"/>
<path d="M662.0,308.5 l-1.6,6.3 h3.2 z M662.0,442.6 l-1.6,-6.3 h3.2 z" fill="#2a2a2a" stroke="none"/>
<path d="M675.9,308.5 V447.8"/>
<path d="M675.9,308.5 l-1.6,6.3 h3.2 z M675.9,447.8 l-1.6,-6.3 h3.2 z" fill="#2a2a2a" stroke="none"/>
<path d="M522.7,346.8 V411.4"/>
<path d="M522.7,346.8 l-1.6,6.3 h3.2 z M522.7,411.4 l-1.6,-6.3 h3.2 z" fill="#2a2a2a" stroke="none"/>
<path d="M519,468.7 H559.6"/>
<path d="M532.1,468.7 l-6.3,-1.6 v3.2 z M539.4,468.7 l6.3,-1.6 v3.2 z" fill="#2a2a2a" stroke="none"/>
</g>
<text transform="translate(570.6,282.2) scale(0.9,1)" font-size="12.2" text-anchor="middle" fill="#484848">46</text>
<text transform="translate(620.4,294.2) scale(0.9,1)" font-size="12.2" text-anchor="middle" fill="#484848">66</text>
<text transform="translate(598.5,476.2) scale(0.9,1)" font-size="12.2" text-anchor="middle" fill="#484848">72</text>
<text transform="translate(550.6,466.2) scale(0.9,1)" font-size="12.2" text-anchor="middle" fill="#484848">5</text>
<text transform="translate(659.8,359.4) rotate(-90) scale(0.9,1)" font-size="12.2" text-anchor="middle" fill="#484848">78</text>
<text transform="translate(673.8,376.6) rotate(-90) scale(0.9,1)" font-size="12.2" text-anchor="middle" fill="#484848">80</text>
<text transform="translate(520.2,377.6) rotate(-90) scale(0.9,1)" font-size="12.2" text-anchor="middle" fill="#484848">35,5</text>
<g opacity="0.095">
<text x="198.2" y="299.6" font-size="36" text-anchor="start" font-weight="normal" fill="#000" textLength="79.8" lengthAdjust="spacingAndGlyphs">ROS</text>
<text x="314.7" y="299.6" font-size="36" text-anchor="start" font-weight="normal" fill="#000" textLength="184.4" lengthAdjust="spacingAndGlyphs">ELECTRIC</text>
</g>
<path d="M308.7,260.5 L285.5,290.3 L297,289.6 L283.9,318.4 L308.7,285.5 L297.5,286 Z" fill="#f9a23c" opacity="0.24"/>
</svg>
</body></html>
